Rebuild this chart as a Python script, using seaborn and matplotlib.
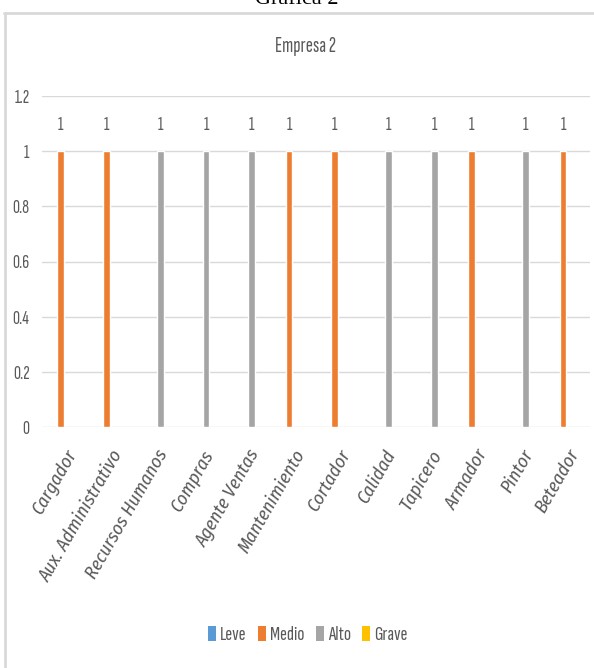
import matplotlib
matplotlib.use("Agg")
import matplotlib.pyplot as plt
import seaborn as sns
import pandas as pd
from matplotlib.patches import Patch
from matplotlib.lines import Line2D

puestos = ["Cargador", "Aux. Administrativo", "Recursos Humanos", "Compras",
           "Agente Ventas", "Mantenimiento", "Cortador", "Calidad", "Tapicero",
           "Armador", "Pintor", "Beteador"]
niveles_puesto = ["Medio", "Medio", "Alto", "Alto", "Alto", "Medio", "Medio",
                  "Alto", "Alto", "Medio", "Alto", "Medio"]
valores = [1, 1, 1, 1, 1, 1, 1, 1, 1, 1, 1, 1]
series = ["Leve", "Medio", "Alto", "Grave"]
colores = ["#5B9BD5", "#ED7D31", "#A5A5A5", "#FFC000"]
y_ticks = [0, 0.2, 0.4, 0.6, 0.8, 1, 1.2]
y_tick_labels = ["0", "0.2", "0.4", "0.6", "0.8", "1", "1.2"]

df = pd.DataFrame({"Puesto": puestos, "Nivel": niveles_puesto, "Valor": valores})

sns.set_style("white")
FAM = ["Sofia Sans Extra Condensed", "Roboto Condensed", "DejaVu Sans"]
XFAM = ["Fira Sans Condensed", "Roboto Condensed", "DejaVu Sans"]
plt.rcParams["font.family"] = FAM
GRAY = "#595959"

fig = plt.figure(figsize=(5.94, 6.68), dpi=100)
ax = fig.add_axes([42/594, 1-427/668, 548/594, 331/668])

sns.barplot(data=df, x="Puesto", y="Valor", hue="Nivel", order=puestos,
            hue_order=series, palette=dict(zip(series, colores)),
            width=0.73, gap=0.2, dodge=True, legend=False, ax=ax,
            errorbar=None, saturation=1)

for c in ax.containers:
    ax.bar_label(c, fmt="%g", padding=12, fontsize=14, color=GRAY)

ax.set_xlim(-0.5, len(puestos) - 0.5)
ax.set_ylim(0, 1.2)
ax.set_yticks(y_ticks)
ax.set_yticklabels(y_tick_labels, fontsize=14, color=GRAY)
ax.yaxis.grid(True, color="#D9D9D9", linewidth=1)
ax.set_axisbelow(True)
for s in ax.spines.values():
    s.set_visible(False)
ax.tick_params(axis="y", length=0, pad=9)
ax.tick_params(axis="x", length=0, pad=14)
ax.set_xticks(range(len(puestos)))
ax.set_xticklabels(puestos, rotation=60, ha="right", rotation_mode="anchor",
                   fontsize=13.5, color=GRAY, style="italic", family=XFAM)
ax.set_xlabel("")
ax.set_ylabel("")

fig.text(305/594, 1-47/668, "Empresa 2", ha="center", va="center",
         fontsize=15.5, color=GRAY)
fig.text(0.5, 1-4/668, "Gráfica 2", ha="center", va="baseline",
         fontsize=16, color="black", family=["Liberation Serif", "DejaVu Serif"])

# chart frame (top and left edges)
fig.add_artist(Line2D([4/594, 1], [1-13/668, 1-13/668], transform=fig.transFigure,
                      color="#D9D9D9", linewidth=2))
fig.add_artist(Line2D([4.5/594, 4.5/594], [0, 1-13/668], transform=fig.transFigure,
                      color="#D9D9D9", linewidth=2))

handles = [Patch(facecolor=c, edgecolor="none", label=s) for s, c in zip(series, colores)]
fig.legend(handles=handles, loc="center", bbox_to_anchor=(308/594, 1-635/668),
           ncol=4, frameon=False, fontsize=15, handlelength=0.37, handleheight=0.75,
           handletextpad=0.2, columnspacing=0.55, labelcolor=GRAY)

fig.savefig("out.png", dpi=100)
